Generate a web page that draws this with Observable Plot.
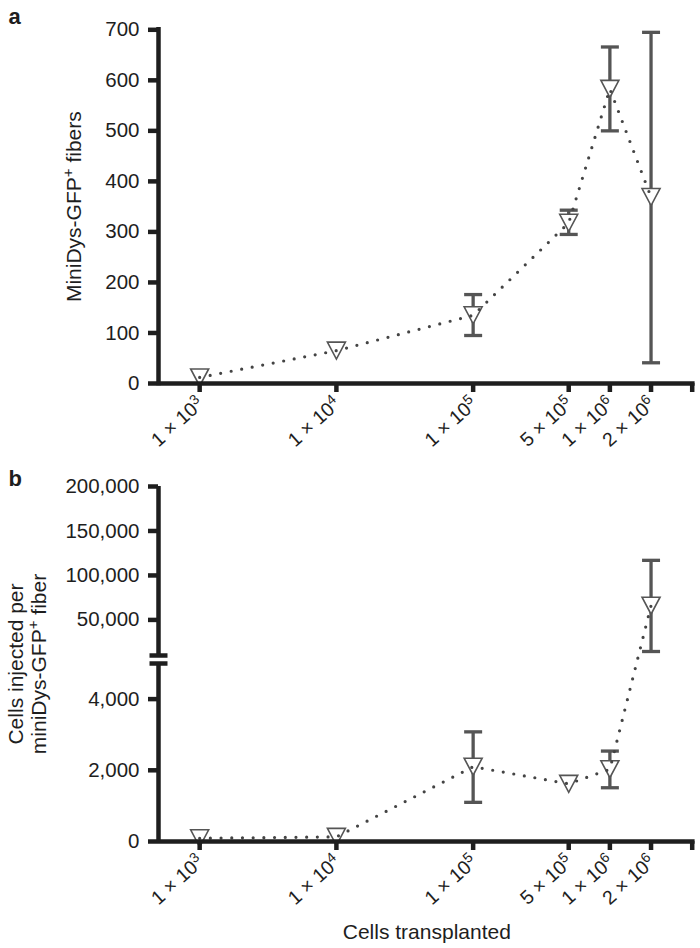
<!DOCTYPE html>
<html>
<head>
<meta charset="utf-8">
<script src="https://cdn.jsdelivr.net/npm/d3@7"></script>
<script src="https://cdn.jsdelivr.net/npm/@observablehq/plot@0.6"></script>
<style>
  html, body { margin: 0; padding: 0; background: #fff; }
  #root { position: relative; width: 700px; height: 948px; overflow: hidden; }
  #root svg { position: absolute; left: 0; }
</style>
</head>
<body>
<div id="root"></div>
<script>
// ---------- data ----------
const cells = [1e3, 1e4, 1e5, 5e5, 1e6, 2e6];
const xTicks = [1e3, 1e4, 1e5, 5e5, 1e6, 2e6, 4e6];
const xTickLabels = ["1 × 10^3", "1 × 10^4", "1 × 10^5", "5 × 10^5", "1 × 10^6", "2 × 10^6", ""];
const xDomain = [500, 4.2e6];

// panel a: MiniDys-GFP+ fibers (mean, error low, error high)
const fibersMean = [12, 65, 135, 318, 583, 369];
const fibersLow  = [null, null, 95, 295, 500, 41];
const fibersHigh = [null, null, 176, 343, 666, 695];
const aTicks = [0, 100, 200, 300, 400, 500, 600, 700];
const aDomain = [0, 700];

// panel b: cells injected per miniDys-GFP+ fiber (broken axis)
const perFiberMean = [90, 130, 2100, 1620, 2030, 66000];
const perFiberLow  = [null, null, 1100, null, 1510, 14500];
const perFiberHigh = [null, null, 3080, null, 2540, 117000];
const bTicks = [0, 2000, 4000, 50000, 100000, 150000, 200000];
const bDomain = [0, 5000, 10000, 200000];          // lower segment 0–5,000, upper 10,000–200,000
const bSegments = [[0, 5000], [10000, 200000]];
const bBreaks = [5000, 10000];

const labelA = "MiniDys-GFP^+ fibers";
const labelB = "Cells injected per\nminiDys-GFP^+ fiber";
const labelX = "Cells transplanted";

// ---------- styling ----------
const FONT = '"Liberation Sans", Arial, Helvetica, sans-serif';
const INK = "#1e1e1e", GREY = "#555555", DOTC = "#444444";
const FS = 21;        // titles
const TFS = 20.5;     // y tick labels
const XFS = 19.5;     // x tick labels

const triDown = { draw(c) { c.moveTo(-9, -8.5); c.lineTo(9, -8.5); c.lineTo(0, 8.5); c.closePath(); } };
const capBar = { draw(c) { c.rect(-9, -1.65, 18, 3.3); } };
const breakBar = { draw(c) { c.rect(-9, -2.25, 18, 4.5); } };

const tickLabelOf = new Map(xTicks.map((t, i) => [t, xTickLabels[i]]));

function rowsOf(means, lows, highs) {
  return cells.map((x, i) => ({ x, m: means[i], lo: lows[i], hi: highs[i] }));
}

function dataMarks(rows) {
  const errs = rows.filter(d => d.lo != null && d.hi != null);
  const caps = errs.flatMap(d => [{ x: d.x, y: d.lo }, { x: d.x, y: d.hi }]);
  return [
    Plot.ruleX(errs, { x: "x", y1: "lo", y2: "hi", stroke: GREY, strokeWidth: 3.3 }),
    Plot.dot(caps, { x: "x", y: "y", symbol: capBar, r: 5, fill: GREY, stroke: null }),
    Plot.dot(rows, { x: "x", y: "m", symbol: triDown, r: 5, fill: "white", stroke: GREY, strokeWidth: 1.6 }),
    Plot.line(rows, { x: "x", y: "m", stroke: DOTC, strokeWidth: 3.2, strokeDasharray: "0 10.7", strokeLinecap: "round" })
  ];
}

function xAxisMarks() {
  return [
    Plot.axisX(xTicks, { tickSize: 9, strokeWidth: 4.5, tickFormat: () => "", label: null }),
    Plot.text(xTicks, {
      x: d => d, text: d => tickLabelOf.get(d), frameAnchor: "bottom",
      rotate: -42, textAnchor: "end", lineAnchor: "top", dx: -4, dy: 12, fontSize: XFS, fill: INK
    }),
    Plot.ruleY([0], { stroke: INK, strokeWidth: 4.5 })
  ];
}

// ---------- panel a ----------
const rowsA = rowsOf(fibersMean, fibersLow, fibersHigh);
const svgA = Plot.plot({
  width: 700, height: 450,
  marginLeft: 158, marginRight: 5.4, marginTop: 29.3, marginBottom: 67,
  style: { fontFamily: FONT, fontSize: FS + "px", color: INK, background: "transparent", overflow: "visible" },
  x: { type: "log", domain: xDomain },
  y: { type: "linear", domain: aDomain },
  marks: [
    ...dataMarks(rowsA),
    Plot.axisY(aTicks, { tickSize: 10, tickPadding: 9, strokeWidth: 4.5, fontSize: TFS, tickFormat: d => String(d), label: null }),
    ...xAxisMarks(),
    Plot.ruleX([{ x: xDomain[0], y1: aDomain[0], y2: aDomain[1] }], { x: "x", y1: "y1", y2: "y2", stroke: INK, strokeWidth: 4.5, strokeLinecap: "square" }),
    Plot.text([labelA], { text: d => d, frameAnchor: "left", rotate: -90, textAnchor: "middle", lineAnchor: "bottom", dx: -78, fontSize: FS, fill: INK }),
    Plot.text(["a"], { text: d => d, frameAnchor: "top-left", textAnchor: "start", lineAnchor: "bottom", dx: -150, dy: -6.3, fontSize: 22, fontWeight: "bold", fill: INK })
  ]
});
svgA.style.top = "0px";

// ---------- panel b ----------
const rowsB = rowsOf(perFiberMean, perFiberLow, perFiberHigh);
const svgB = Plot.plot({
  width: 700, height: 498,
  marginLeft: 158, marginRight: 5.4, marginTop: 36, marginBottom: 107,
  style: { fontFamily: FONT, fontSize: FS + "px", color: INK, background: "transparent", overflow: "visible" },
  x: { type: "log", domain: xDomain },
  y: { type: "linear", domain: bDomain, range: [391, 213, 205, 36] },
  marks: [
    ...dataMarks(rowsB),
    Plot.axisY(bTicks, { tickSize: 10, tickPadding: 9, strokeWidth: 4.5, fontSize: TFS, tickFormat: d3.format(","), label: null }),
    ...xAxisMarks(),
    Plot.ruleX(bSegments.map(([a, b]) => ({ x: xDomain[0], y1: a, y2: b })), { x: "x", y1: "y1", y2: "y2", stroke: INK, strokeWidth: 4.5 }),
    Plot.dot(bBreaks.map(y => ({ x: xDomain[0], y })), { x: "x", y: "y", symbol: breakBar, r: 5, fill: INK, stroke: null }),
    Plot.text([labelB], { text: d => d, frameAnchor: "left", rotate: -90, textAnchor: "middle", lineAnchor: "bottom", dx: -112.7, dy: 0, fontSize: FS, lineHeight: 1.1, fill: INK }),
    Plot.text([labelX], { text: d => d, frameAnchor: "bottom", textAnchor: "middle", lineAnchor: "bottom", dx: 0, dy: 97, fontSize: FS, fill: INK }),
    Plot.text(["b"], { text: d => d, frameAnchor: "top-left", textAnchor: "start", lineAnchor: "bottom", dx: -150, dy: -1, fontSize: 22, fontWeight: "bold", fill: INK })
  ]
});
svgB.style.top = "450px";

// ---------- superscripts (a^b -> raised tspan) ----------
function supify(svg) {
  const ns = "http://www.w3.org/2000/svg";
  svg.querySelectorAll("text, tspan").forEach(el => {
    if (el.children.length) return;
    const s = el.textContent;
    if (!s || !s.includes("^")) return;
    const parts = s.split(/\^(\S)/);
    el.textContent = "";
    parts.forEach((p, i) => {
      if (!p) return;
      const t = document.createElementNS(ns, "tspan");
      t.textContent = p;
      if (i % 2) { t.setAttribute("dy", "-0.5em"); t.setAttribute("font-size", "72%"); }
      else if (i > 0) { t.setAttribute("dy", "0.36em"); }
      el.appendChild(t);
    });
  });
}
supify(svgA);
supify(svgB);

const root = document.getElementById("root");
root.appendChild(svgA);
root.appendChild(svgB);
</script>
</body>
</html>
